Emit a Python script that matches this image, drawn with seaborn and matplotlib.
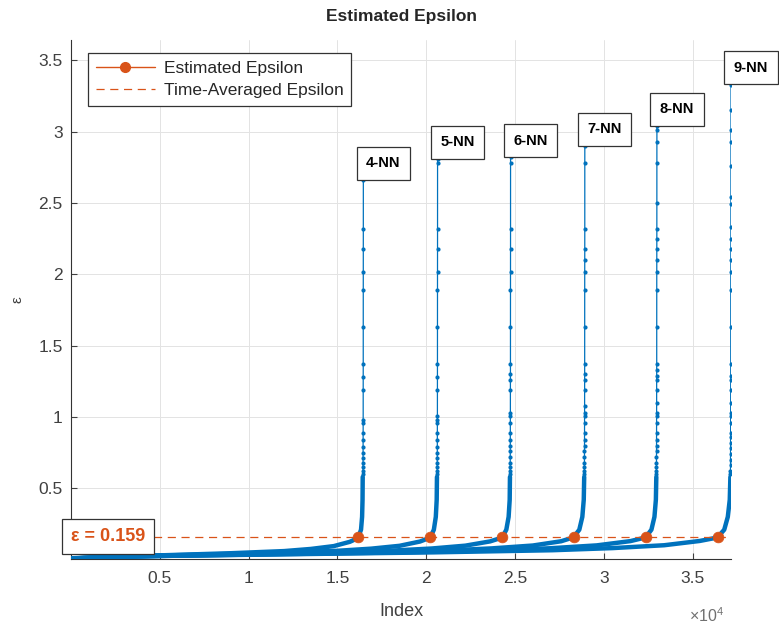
import numpy as np
import pandas as pd
import matplotlib
matplotlib.use("Agg")
import matplotlib.pyplot as plt
import seaborn as sns
from matplotlib.lines import Line2D
from matplotlib.ticker import FuncFormatter

# k-NN curves: labels, length of each sorted distance list, knee
labels = ['4-NN', '5-NN', '6-NN', '7-NN', '8-NN', '9-NN']
n_points = [16460, 20640, 24750, 28930, 32990, 37160]
knee_idx = [16180, 20240, 24290, 28310, 32370, 36430]
knee_eps = [0.159, 0.159, 0.158, 0.159, 0.159, 0.160]
eps_avg = 0.159

# body of each curve (index, epsilon)
idx_4 = [1, 2000, 5000, 9000, 12000, 13500, 14800, 15700, 16050, 16180, 16330, 16390, 16415, 16425]
eps_4 = [0.006, 0.020, 0.030, 0.045, 0.060, 0.075, 0.095, 0.125, 0.145, 0.159, 0.21, 0.30, 0.42, 0.58]
idx_5 = [1, 2500, 6200, 11300, 15000, 16900, 18500, 19650, 20050, 20240, 20430, 20540, 20590, 20605]
eps_5 = [0.007, 0.021, 0.032, 0.047, 0.062, 0.077, 0.097, 0.127, 0.146, 0.159, 0.21, 0.30, 0.42, 0.58]
idx_6 = [1, 3000, 7400, 13600, 18000, 20300, 22200, 23600, 24080, 24290, 24510, 24640, 24700, 24715]
eps_6 = [0.008, 0.022, 0.033, 0.048, 0.063, 0.078, 0.098, 0.128, 0.147, 0.158, 0.21, 0.30, 0.42, 0.58]
idx_7 = [1, 3500, 8700, 15900, 21100, 23700, 26000, 27600, 28080, 28310, 28620, 28790, 28870, 28895]
eps_7 = [0.008, 0.023, 0.034, 0.049, 0.064, 0.079, 0.099, 0.129, 0.148, 0.159, 0.21, 0.30, 0.42, 0.58]
idx_8 = [1, 4000, 9900, 18100, 24000, 27000, 29600, 31500, 32100, 32370, 32680, 32850, 32930, 32955]
eps_8 = [0.009, 0.024, 0.035, 0.050, 0.065, 0.080, 0.100, 0.130, 0.148, 0.159, 0.21, 0.30, 0.42, 0.58]
idx_9 = [1, 4500, 11200, 20400, 27100, 30500, 33400, 35400, 36150, 36430, 36780, 36980, 37090, 37125]
eps_9 = [0.010, 0.025, 0.036, 0.051, 0.066, 0.081, 0.101, 0.131, 0.149, 0.160, 0.21, 0.30, 0.42, 0.58]

# sparse outliers at the end of each curve, largest first
tail_4 = [2.66, 2.32, 2.18, 2.02, 1.89, 1.63, 1.37, 1.28, 1.19, 0.98, 0.96, 0.89, 0.84, 0.79, 0.75, 0.71, 0.68, 0.65, 0.62, 0.60]
tail_5 = [2.81, 2.78, 2.32, 2.18, 2.02, 1.89, 1.63, 1.37, 1.28, 1.19, 1.01, 0.98, 0.96, 0.89, 0.84, 0.79, 0.75, 0.71, 0.68, 0.65, 0.62, 0.60]
tail_6 = [2.82, 2.78, 2.32, 2.18, 2.02, 1.89, 1.63, 1.37, 1.30, 1.26, 1.19, 1.03, 1.01, 0.96, 0.89, 0.84, 0.80, 0.76, 0.72, 0.68, 0.65, 0.62, 0.60]
tail_7 = [2.90, 2.78, 2.32, 2.18, 2.10, 2.02, 1.89, 1.63, 1.37, 1.30, 1.26, 1.19, 1.08, 1.03, 1.01, 0.96, 0.89, 0.84, 0.80, 0.76, 0.72, 0.68, 0.65, 0.62, 0.60]
tail_8 = [3.04, 3.01, 2.93, 2.78, 2.50, 2.32, 2.25, 2.18, 2.10, 2.02, 1.89, 1.63, 1.37, 1.33, 1.29, 1.26, 1.19, 1.10, 1.03, 1.01, 0.96, 0.89, 0.84, 0.80, 0.76, 0.72, 0.68, 0.65, 0.62, 0.60]
tail_9 = [3.33, 3.15, 3.01, 2.93, 2.76, 2.54, 2.49, 2.33, 2.25, 2.18, 2.10, 2.02, 1.89, 1.63, 1.37, 1.29, 1.26, 1.19, 1.10, 1.03, 1.01, 0.96, 0.89, 0.86, 0.82, 0.78, 0.74, 0.70, 0.66, 0.62, 0.60]

bodies = [(idx_4, eps_4), (idx_5, eps_5), (idx_6, eps_6), (idx_7, eps_7), (idx_8, eps_8), (idx_9, eps_9)]
tails = [tail_4, tail_5, tail_6, tail_7, tail_8, tail_9]

blue = '#0072BD'
orange = '#D95319'
txt = '#404040'

sns.set_theme(style="whitegrid")
plt.rcParams['font.family'] = ['Liberation Sans', 'DejaVu Sans']
plt.rcParams['mathtext.fontset'] = 'custom'
plt.rcParams['mathtext.rm'] = 'Liberation Sans'

fig, ax = plt.subplots(figsize=(7.79, 6.3), dpi=100)
fig.subplots_adjust(left=71/779, right=731/779, bottom=1-558.5/630, top=1-40/630)

for lab, n, (bi, be), tl in zip(labels, n_points, bodies, tails):
    body = pd.DataFrame({'Index': bi, 'eps': be})
    sns.lineplot(data=body, x='Index', y='eps', ax=ax, color=blue, lw=3.2,
                 sort=False, estimator=None, zorder=3)
    # tail points sit on the last indices of the sorted list
    tail = pd.DataFrame({'Index': np.arange(n, n - len(tl), -1), 'eps': tl})
    sns.lineplot(data=tail, x='Index', y='eps', ax=ax, color=blue, lw=0.9,
                 marker='.', markersize=6, markeredgewidth=0, sort=False,
                 estimator=None, zorder=3)
    ax.annotate(lab, xy=(n, tl[0]), xytext=(2, 7), textcoords='offset points',
                ha='left', va='bottom', fontsize=10.5, fontweight='bold', color='black',
                bbox=dict(boxstyle='square,pad=0.65', fc='white', ec='#333333', lw=0.9),
                annotation_clip=False, zorder=6)

ax.axhline(eps_avg, color=orange, lw=0.9, ls=(0, (6.5, 4.5)), zorder=4)
sns.scatterplot(x=knee_idx, y=knee_eps, ax=ax, color=orange, s=60,
                edgecolor=orange, linewidth=0.5, zorder=5, legend=False)

ax.text(0, eps_avg, 'ε = 0.159', ha='left', va='center', fontsize=13,
        fontweight='bold', color=orange, zorder=7,
        bbox=dict(boxstyle='square,pad=0.5', fc='white', ec='#333333', lw=0.9))

ax.set_xlim(1, 37160)
ax.set_ylim(0.008, 3.643)
ax.set_xticks([5000, 10000, 15000, 20000, 25000, 30000, 35000])
ax.set_yticks([0.5, 1, 1.5, 2, 2.5, 3, 3.5])
ax.xaxis.set_major_formatter(FuncFormatter(lambda v, p: f"{v/1e4:g}"))
ax.yaxis.set_major_formatter(FuncFormatter(lambda v, p: f"{v:g}"))
ax.tick_params(axis='both', direction='in', length=4, width=0.8, colors=txt,
               labelsize=12.5, left=True, bottom=True)
ax.tick_params(axis='x', pad=9)
ax.tick_params(axis='y', pad=6)
ax.grid(True, color='#e3e3e3', lw=0.7)

for side in ['top', 'right']:
    ax.spines[side].set_visible(False)
for side in ['left', 'bottom']:
    ax.spines[side].set_color('#333333')
    ax.spines[side].set_linewidth(0.8)

ax.set_title('Estimated Epsilon', fontsize=12.5, fontweight='bold', pad=14)
ax.set_xlabel('Index', fontsize=13, color=txt, labelpad=12)
ax.set_ylabel('ε', fontsize=11, color=txt, labelpad=10)
ax.text(0.99, -0.11, r'$\times10^{4}$', transform=ax.transAxes, ha='right', va='center',
        fontsize=11.5, color='#707070')

handles = [Line2D([], [], color=orange, lw=1.0, marker='o', markersize=7),
           Line2D([], [], color=orange, lw=0.9, ls=(0, (6.5, 4.5)))]
leg = ax.legend(handles, ['Estimated Epsilon', 'Time-Averaged Epsilon'],
                loc='upper left', bbox_to_anchor=(0.026, 0.975), borderaxespad=0,
                fontsize=12.5, handlelength=3.4, handletextpad=0.5, labelspacing=0.4,
                frameon=True, fancybox=False, framealpha=1, edgecolor='#333333',
                borderpad=0.45)
leg.get_frame().set_linewidth(0.9)
for t in leg.get_texts():
    t.set_color('#262626')

fig.savefig('out.png', dpi=100)
